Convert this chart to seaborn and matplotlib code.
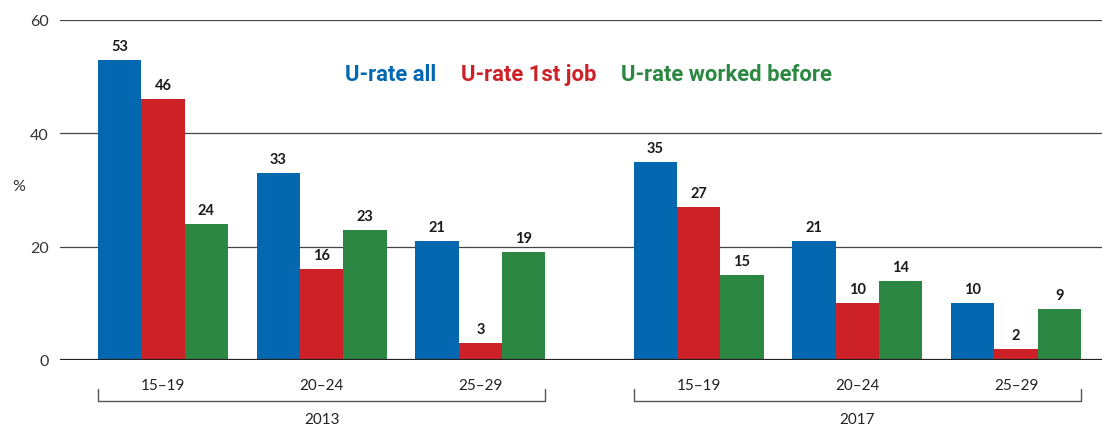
import seaborn as sns
import matplotlib.pyplot as plt
import pandas as pd

# data
years = ['2013', '2017']
ages = ['15-19', '20-24', '25-29']
age_labels = ['15–19', '20–24', '25–29']
series = ['U-rate all', 'U-rate 1st job', 'U-rate worked before']
u_all = [53, 33, 21, 35, 21, 10]
u_first = [46, 16, 3, 27, 10, 2]
u_before = [24, 23, 19, 15, 14, 9]
colors = ['#0468B1', '#CD2128', '#2B8742']

sns.set_style('white')
plt.rcParams['font.family'] = ['Lato', 'DejaVu Sans']

# x positions: three age groups per year, extra gap between years
year_gap = 0.375
pos = []
for yi, yr in enumerate(years):
    for ai, ag in enumerate(ages):
        pos.append(yi * (len(ages) + year_gap) + ai)

rows = []
for name, vals in zip(series, [u_all, u_first, u_before]):
    for p, v in zip(pos, vals):
        rows.append({'pos': p, 'value': v, 'series': name})
df = pd.DataFrame(rows)

fig = plt.figure(figsize=(11.02, 4.27), dpi=100)
ax = fig.add_axes([60 / 1102, 1 - 361 / 427, 1 - 60 / 1102, (361 - 21) / 427])

sns.barplot(data=df, x='pos', y='value', hue='series', hue_order=series,
            palette=colors, native_scale=True, width=0.82, gap=0,
            saturation=1, legend=False, linewidth=0, ax=ax)

for c in ax.containers:
    ax.bar_label(c, fmt='%d', padding=5, fontsize=10.5, fontweight='bold', color='#1a1a1a')

ax.set_ylim(0, 60)
ax.set_xlim(-0.649, pos[-1] + 0.542)
ax.set_yticks([0, 20, 40, 60])
ax.tick_params(axis='y', length=0, pad=8, labelsize=11.5, labelcolor='#333333')
for yv in [20, 40, 60]:
    ax.axhline(yv, color='#444444', lw=0.9, zorder=0)
ax.axhline(0, color='#222222', lw=1.6, zorder=3)
for s in ax.spines.values():
    s.set_visible(False)

ax.set_xticks(pos)
ax.set_xticklabels(age_labels * len(years))
ax.tick_params(axis='x', length=0, pad=13, labelsize=11, labelcolor='#222222')
ax.set_xlabel('')
ax.set_ylabel('')

# "%" axis label
fig.text(12 / 1102, 1 - 187 / 427, '%', fontsize=11.5, color='#333333', va='center')

# brackets with the year under each group
half = 0.82 / 2
trans = ax.get_xaxis_transform()
for yi, yr in enumerate(years):
    g = pos[yi * len(ages):(yi + 1) * len(ages)]
    x0, x1 = g[0] - half, g[-1] + half
    yt, yb = -29 / 340, -41 / 340
    ax.plot([x0, x0, x1, x1], [yt, yb, yb, yt], transform=trans, clip_on=False,
            color='#555555', lw=1)
    ax.text((x0 + x1) / 2, -59 / 340, yr, transform=trans, ha='center', va='center',
            fontsize=11, color='#222222')

# coloured text legend
for name, col, xpx in zip(series, colors, [345, 461, 621]):
    fig.text(xpx / 1102, 1 - 75 / 427, name, color=col, fontsize=15.8,
             fontweight='bold', family=['Roboto', 'DejaVu Sans'], va='center')

fig.savefig('out.png', dpi=100)
